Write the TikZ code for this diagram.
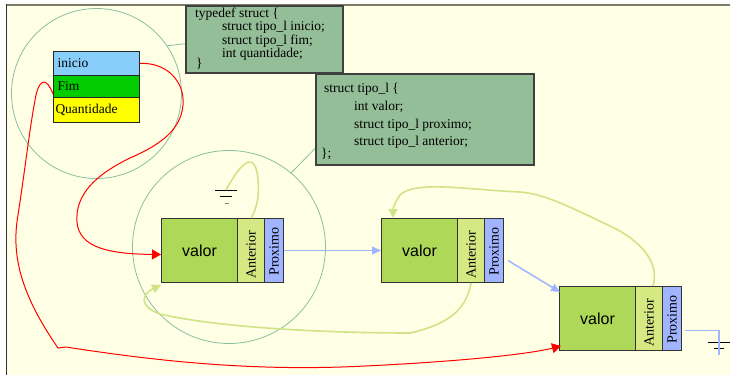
\documentclass[tikz,border=0pt]{standalone}
\usepackage{fontspec}
\setmainfont{Liberation Serif}
\newfontfamily\arialfont{Liberation Sans}
\usetikzlibrary{arrows.meta,calc}
\definecolor{bg}{RGB}{255,255,230}
\definecolor{framecol}{RGB}{125,125,105}
\definecolor{circcol}{RGB}{140,190,160}
\definecolor{codefill}{RGB}{148,190,152}
\definecolor{cinicio}{RGB}{135,206,250}
\definecolor{cfim}{RGB}{0,204,0}
\definecolor{cquant}{RGB}{255,255,0}
\definecolor{cvalor}{RGB}{173,216,88}
\definecolor{cant}{RGB}{214,232,130}
\definecolor{cprox}{RGB}{160,180,255}
\definecolor{cgreen}{RGB}{208,228,135}
\definecolor{cred}{RGB}{255,0,0}
\tikzset{
  cell/.style={draw=black!85, line width=1pt, inner ysep=0pt, inner xsep=4pt, text width=78pt, align=left, minimum height=24pt, anchor=north west, font=\fontsize{13.5}{14}\selectfont},
  codebox/.style={draw=black!75, line width=1.5pt, fill=codefill, anchor=north west, inner sep=0pt},
  codetext/.style={anchor=base west, inner sep=0pt, font=\fontsize{13.5}{14}\selectfont},
  valbox/.style={draw=black!80, line width=1pt, fill=cvalor, anchor=north west, minimum width=76pt, minimum height=64pt, inner sep=0pt, font=\arialfont\fontsize{16}{18}\selectfont},
  antbox/.style={draw=black!80, line width=1pt, fill=cant, anchor=north west, minimum width=27pt, minimum height=64pt, inner sep=0pt},
  proxbox/.style={draw=black!80, line width=1pt, fill=cprox, anchor=north west, minimum width=19pt, minimum height=64pt, inner sep=0pt},
  vlabel/.style={rotate=90, inner sep=0pt, font=\fontsize{14}{14}\selectfont},
  ring/.style={circle, draw=circcol, line width=0.8pt, inner sep=0pt},
  redline/.style={draw=cred, line width=1pt},
  greenline/.style={draw=cgreen, line width=1.6pt},
  blueline/.style={draw=cprox, line width=1.5pt},
  gtip/.style={-{Triangle[length=9pt,width=9pt]}},
  rtip/.style={-{Triangle[length=9pt,width=10pt]}},
  btip/.style={-{Triangle[length=9pt,width=8pt]}},
  gnd/.style={draw=black, line width=1pt}
}
\begin{document}
\begin{tikzpicture}[x=1pt,y=-1pt]
\useasboundingbox (0,0) rectangle (730,375);
\fill[white] (0,0) rectangle (730,375);
\fill[bg] (7,5) rectangle (730,375);
\draw[framecol, line width=2pt] (6,4.5) -- (730,4.5);
\draw[black!80, line width=1.5pt] (6.5,4) -- (6.5,375);

% circles
\node[ring, minimum size=170pt] (c1) at (96.5,93.5) {};
\node[ring, minimum size=193pt] (c2) at (229,247) {};

% table
\node[cell, fill=cinicio] (ini) at (53,51) {inicio};
\node[cell, fill=cfim, minimum height=22pt] (fim) at (53,75) {Fim};
\node[cell, fill=cquant, inner xsep=2pt, text width=82pt, minimum height=25pt] (qtd) at (53,97) {Quantidade};

% code boxes
\node[codebox, minimum width=157pt, minimum height=67pt] (td) at (185,5) {};
\node[codetext] (td1) at (195,17.5) {typedef struct \{};
\node[codetext] (td2) at (222,30.5) {struct tipo\_l inicio;};
\node[codetext] (td3) at (222,44) {struct tipo\_l fim;};
\node[codetext] (td4) at (222,57.5) {int quantidade;};
\node[codetext] (td5) at (196,67) {\}};

\node[codebox, minimum width=218pt, minimum height=91pt] (sb) at (315,73) {};
\node[codetext] (sb1) at (324,92) {struct tipo\_l \{};
\node[codetext] (sb2) at (354,110) {int valor;};
\node[codetext] (sb3) at (354,128) {struct tipo\_l proximo;};
\node[codetext] (sb4) at (354,145) {struct tipo\_l anterior;};
\node[codetext] (sb5) at (321,157) {\};};

\draw[circcol, line width=0.8pt] (c1.34) -- ($(td.west)+(0,4.5)$);
\draw[circcol, line width=0.8pt] (c2.50) -- ($(sb.south west)+(0,-17)$);

% list nodes
\node[valbox] (v1) at (161,218) {valor};
\node[antbox] (a1) at (237,218) {};
\node[proxbox] (p1) at (264,218) {};
\node[vlabel] (a1t) at ($(a1.center)+(0,4)$) {Anterior};
\node[vlabel] (p1t) at ($(p1.center)+(0,1)$) {Proximo};

\node[valbox] (v2) at (381,218) {valor};
\node[antbox] (a2) at (457,218) {};
\node[proxbox] (p2) at (484,218) {};
\node[vlabel] (a2t) at ($(a2.center)+(0,4)$) {Anterior};
\node[vlabel] (p2t) at ($(p2.center)+(0,1)$) {Proximo};

\node[valbox] (v3) at (559,286) {valor};
\node[antbox] (a3) at (635,286) {};
\node[proxbox] (p3) at (662,286) {};
\node[vlabel] (a3t) at ($(a3.center)+(0,4)$) {Anterior};
\node[vlabel] (p3t) at ($(p3.center)+(0,1)$) {Proximo};

% grounds
\coordinate (g1) at (226,190);
\draw[gnd] (215,190) -- (237,190);
\draw[gnd] (220,196) -- (232,196);
\draw[gray, line width=1pt] (225,203) -- (229,203);
\coordinate (g3) at (719,355);
\draw[gnd] (708,342) -- (730,342);
\draw[gnd] (714,348) -- (724,348);

% blue connectors
\draw[blueline, btip] (p1.east) -- (v2.west);
\draw[blueline, btip] ($(p2.east)+(4,10)$) -- ($(v3.north west)+(1,6)$);
\draw[blueline] ($(p3.east)+(3,12)$) -| (g3);

% green connectors
\draw[greenline] (g1) .. controls (238,168) and (252,150) .. (257,172)
  .. controls (261,195) and (256,210) .. (a1.north);
\draw[greenline, gtip] (a2.south) .. controls (466,312) and (445,325) .. (410,333)
  .. controls (330,333) and (220,328) .. (160,314)
  .. controls (138,306) and (142,294) .. ($(v1.south west)+(0,2)$);
\draw[greenline, gtip] ($(a3.north)+(4,0)$) .. controls (660,262) and (640,240) .. (610,226)
  .. controls (570,207) and (545,194) .. (520,192)
  .. controls (470,190) and (415,180) .. (400,195)
  .. controls (395,202) and (393,208) .. ($(v2.north west)+(12,0)$);

% red connectors
\draw[redline, rtip] (ini.east) .. controls (165,62) and (185,80) .. (183,105)
  .. controls (181,130) and (160,145) .. (130,158)
  .. controls (95,175) and (75,195) .. (77,222)
  .. controls (79,248) and (110,254) .. ($(v1.west)+(0,4)$);
\draw[redline, rtip] ($(fim.south west)+(0,-4)$) .. controls (47,78) and (40,78) .. (36,95)
  .. controls (30,125) and (25,170) .. (18,215)
  .. controls (10,260) and (25,300) .. (58,348)
  -- (66,347) .. controls (150,360) and (250,372) .. (365,366)
  .. controls (450,362) and (525,355) .. ($(v3.south west)+(2,-5)$);
\end{tikzpicture}
\end{document}
